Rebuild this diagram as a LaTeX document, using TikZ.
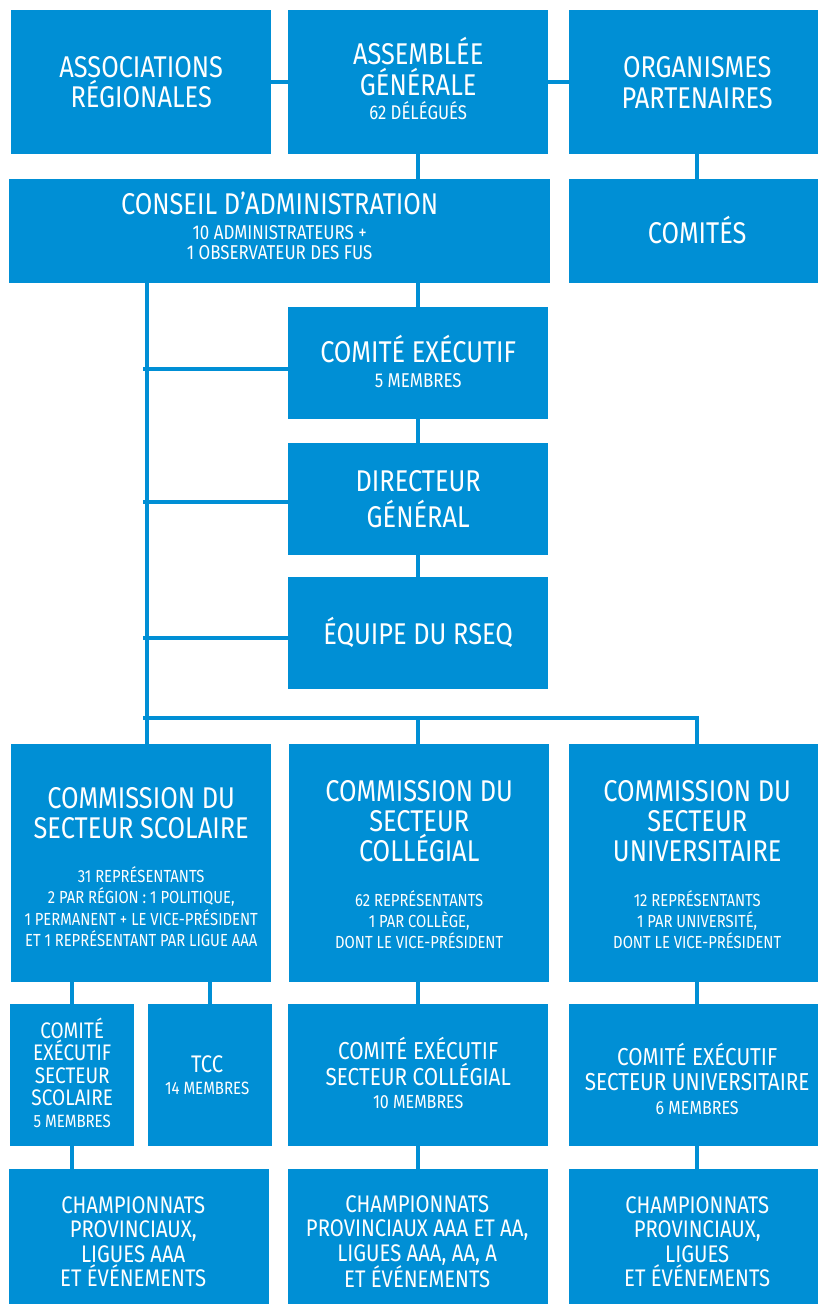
\documentclass[tikz,border=0pt]{standalone}
\usepackage{fontspec}
\setmainfont{Fira Sans}[FakeStretch=0.845]
\setlength\parindent{0pt}
\definecolor{rseq}{RGB}{0,143,213}
% one centred line: size, distance from previous baseline, text
\newcommand\Ln[3]{\fontsize{#1}{#2}\selectfont\centerline{#3}}
% a block of lines: width, shift right, shift down, lines
\newdimen\Bdx \newdimen\Bdy
\newcommand\Blk[4]{\Bdx=#2pt\relax\Bdy=#3pt\relax
  \hbox{\ifdim\Bdx>0pt\kern2\Bdx\fi
    \vbox{\hsize=#1pt\relax
      \ifdim\Bdx<0pt\advance\hsize by 2\Bdx\else\advance\hsize by -2\Bdx\fi
      \parindent=0pt\relax
      \ifdim\Bdy>0pt\kern2\Bdy\fi
      #4%
      \ifdim\Bdy<0pt\kern-2\Bdy\fi}%
    \ifdim\Bdx<0pt\kern-2\Bdx\fi}}
\begin{document}
\begin{tikzpicture}[x=1pt,y=-1pt,
  box/.style={fill=rseq,text=white,inner sep=0pt,anchor=north west},
  link/.style={draw=rseq,line width=4pt}]
\useasboundingbox (0,0) rectangle (818,1304);
% row 1
\node[box,minimum width=260,minimum height=144] (assoc) at (11,10) {\Blk{260}{0}{0}{\Ln{30}{30}{ASSOCIATIONS}\Ln{30}{30}{RÉGIONALES}}};
\node[box,minimum width=260,minimum height=144] (ag) at (288,10) {\Blk{260}{0}{-3.4}{\Ln{30}{30}{ASSEMBLÉE}\Ln{30}{31}{GÉNÉRALE}\Ln{19.8}{24}{62 DÉLÉGUÉS}}};
\node[box,minimum width=256,minimum height=144] (org) at (569,10) {\Blk{256}{0}{0}{\Ln{30}{30}{ORGANISMES}\Ln{30}{31}{PARTENAIRES}}};
% row 2
\node[box,minimum width=541,minimum height=104] (ca) at (9,179) {\Blk{541}{0}{-5}{\Ln{30}{30}{CONSEIL D’ADMINISTRATION}\Ln{20}{25}{10 ADMINISTRATEURS +}\Ln{20}{20}{1 OBSERVATEUR DES FUS}}};
\node[box,minimum width=256,minimum height=104] (com) at (569,179) {\Blk{256}{0}{-1.3}{\Ln{30}{30}{COMITÉS}}};
% central column
\node[box,minimum width=260,minimum height=112] (ce) at (288,307) {\Blk{260}{0}{-1.8}{\Ln{30}{30}{COMITÉ EXÉCUTIF}\Ln{20}{25}{5 MEMBRES}}};
\node[box,minimum width=260,minimum height=112] (dg) at (288,443) {\Blk{260}{0}{0}{\Ln{30}{30}{DIRECTEUR}\Ln{30}{36.7}{GÉNÉRAL}}};
\node[box,minimum width=260,minimum height=112] (eq) at (288,577) {\Blk{260}{0}{-1}{\Ln{30}{30}{ÉQUIPE DU RSEQ}}};
% commissions
\node[box,minimum width=260,minimum height=238] (csA) at (11,744) {\Blk{260}{0}{3.9}{\Ln{30}{30}{COMMISSION DU}\Ln{30}{30}{SECTEUR SCOLAIRE}\Ln{17.5}{44}{31 REPRÉSENTANTS}\Ln{17.5}{21.5}{2 PAR RÉGION : 1 POLITIQUE,}\Ln{17.5}{21.5}{1 PERMANENT + LE VICE-PRÉSIDENT}\Ln{17.5}{21.5}{ET 1 REPRÉSENTANT PAR LIGUE AAA}}};
\node[box,minimum width=260,minimum height=238] (csB) at (289,744) {\Blk{260}{0}{1.7}{\Ln{30}{30}{COMMISSION DU}\Ln{30}{30}{SECTEUR}\Ln{30}{30}{COLLÉGIAL}\Ln{17.5}{44.3}{62 REPRÉSENTANTS}\Ln{17.5}{21.2}{1 PAR COLLÈGE,}\Ln{17.5}{21.2}{DONT LE VICE-PRÉSIDENT}}};
\node[box,minimum width=256,minimum height=238] (csC) at (569,744) {\Blk{256}{0}{1.7}{\Ln{30}{30}{COMMISSION DU}\Ln{30}{30}{SECTEUR}\Ln{30}{30}{UNIVERSITAIRE}\Ln{17.5}{44.3}{12 REPRÉSENTANTS}\Ln{17.5}{21.2}{1 PAR UNIVERSITÉ,}\Ln{17.5}{21.2}{DONT LE VICE-PRÉSIDENT}}};
% executive committees
\node[box,minimum width=124,minimum height=142] (ceS) at (10,1004) {\Blk{124}{0}{-2.5}{\Ln{22.5}{22}{COMITÉ}\Ln{22.5}{22.3}{EXÉCUTIF}\Ln{22.5}{22.3}{SECTEUR}\Ln{22.5}{22.3}{SCOLAIRE}\Ln{17.8}{22}{5 MEMBRES}}};
\node[box,minimum width=124,minimum height=142] (tcc) at (148,1004) {\Blk{124}{-3}{0}{\Ln{24}{24}{TCC}\Ln{17.8}{21.5}{14 MEMBRES}}};
\node[box,minimum width=260,minimum height=142] (ceC) at (288,1004) {\Blk{260}{0}{-2.2}{\Ln{24.5}{24.5}{COMITÉ EXÉCUTIF}\Ln{24.5}{26}{SECTEUR COLLÉGIAL}\Ln{19}{23}{10 MEMBRES}}};
\node[box,minimum width=256,minimum height=142] (ceU) at (569,1004) {\Blk{256}{0}{3.8}{\Ln{24.5}{24.5}{COMITÉ EXÉCUTIF}\Ln{24.5}{25}{SECTEUR UNIVERSITAIRE}\Ln{19}{24}{6 MEMBRES}}};
% championships
\node[box,minimum width=260,minimum height=141] (chA) at (9,1169) {\Blk{260}{-6}{2}{\Ln{24}{24}{CHAMPIONNATS}\Ln{24}{24.5}{PROVINCIAUX,}\Ln{24}{24.5}{LIGUES AAA}\Ln{24}{24.5}{ET ÉVÉNEMENTS}}};
\node[box,minimum width=260,minimum height=141] (chB) at (288,1169) {\Blk{260}{-1}{2}{\Ln{24}{24}{CHAMPIONNATS}\Ln{24}{24.5}{PROVINCIAUX AAA ET AA,}\Ln{24}{24.5}{LIGUES AAA, AA, A}\Ln{24}{24.5}{ET ÉVÉNEMENTS}}};
\node[box,minimum width=256,minimum height=141] (chC) at (569,1169) {\Blk{256}{0}{2}{\Ln{24}{24}{CHAMPIONNATS}\Ln{24}{24.5}{PROVINCIAUX,}\Ln{24}{24.5}{LIGUES}\Ln{24}{24.5}{ET ÉVÉNEMENTS}}};
% connectors
\coordinate (spine) at (147,0);
\coordinate (nub) at (143,0);
\coordinate (bus) at (0,718);
\draw[link] (assoc.east) -- (ag.west);
\draw[link] (ag.east) -- (org.west);
\draw[link] (ag.south) -- (ag.south |- ca.north);
\draw[link] (org.south) -- (com.north);
\draw[link] (ca.south -| spine) -- (csA.north -| spine);
\draw[link] (ce.north) -- (ce.north |- ca.south);
\draw[link] (ce.south) -- (dg.north);
\draw[link] (dg.south) -- (eq.north);
\draw[link] ([yshift=-6pt]ce.west) -- ([yshift=-6pt]ce.west -| nub);
\draw[link] ([yshift=-3pt]dg.west) -- ([yshift=-3pt]dg.west -| nub);
\draw[link] ([yshift=-5pt]eq.west) -- ([yshift=-5pt]eq.west -| nub);
\draw[link] (nub |- bus) -- (csC.north |- bus) -- (csC.north);
\draw[link] (ceC.north |- bus) -- (ceC.north |- csB.north);
\draw[link] (csA.south -| ceS.north) -- (ceS.north);
\draw[link] (csA.south -| tcc.north) -- (tcc.north);
\draw[link] (ceC.north |- csB.south) -- (ceC.north);
\draw[link] (csC.south) -- (ceU.north);
\draw[link] (ceS.south) -- (ceS.south |- chA.north);
\draw[link] (ceC.south) -- (chB.north);
\draw[link] (ceU.south) -- (chC.north);
\end{tikzpicture}
\end{document}
